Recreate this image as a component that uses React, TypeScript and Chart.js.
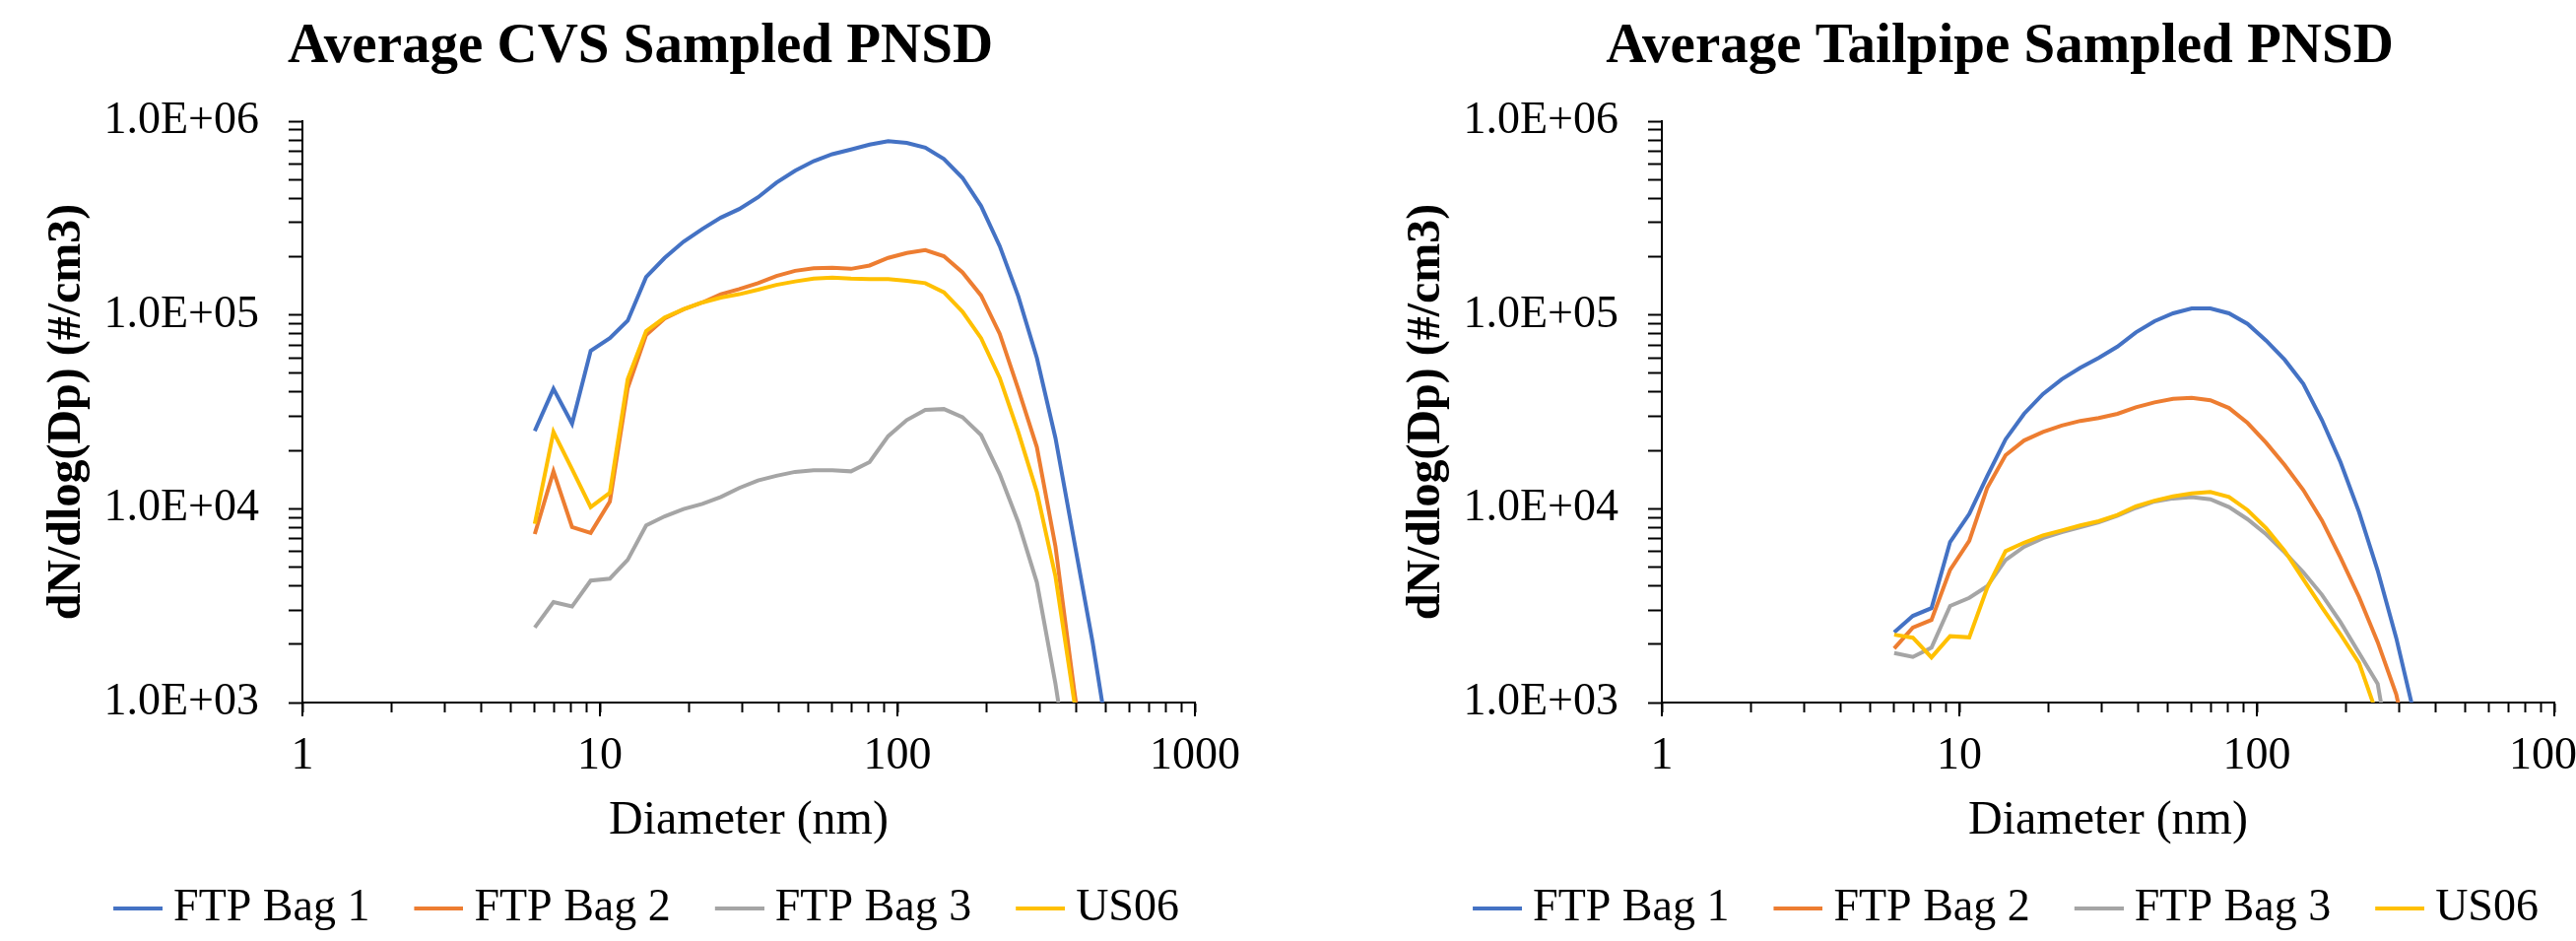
import React, { useEffect, useRef } from 'react';
import { Chart, registerables } from 'chart.js';

Chart.register(...registerables);

// ---------------- DATA ----------------
const diameters = [6.04, 6.98, 8.06, 9.31, 10.8, 12.4, 14.3, 16.5, 19.1, 22.1, 25.5, 29.4, 34.0, 39.2, 45.3, 52.3, 60.4, 69.8, 80.6, 93.1, 107.5, 124.1, 143.3, 165.5, 191.1, 220.7, 254.8, 294.3, 339.8, 392.4, 453.2, 523.3];

const seriesNames = ['FTP Bag 1', 'FTP Bag 2', 'FTP Bag 3', 'US06'];

// Average CVS sampled PNSD (#/cm3)
const cvsBag1 = [25200, 41600, 27500, 65300, 76000, 93500, 157000, 197000, 239000, 278000, 318000, 352000, 405000, 482000, 555000, 622000, 676000, 714000, 757000, 789000, 773000, 730000, 638000, 510000, 365000, 227000, 125000, 60000, 23200, 6870, 2040, 510];
const cvsBag2 = [7400, 15600, 8050, 7500, 10900, 42000, 78900, 96000, 107000, 116000, 128000, 136000, 146000, 159000, 169000, 174000, 175000, 173000, 180000, 197000, 209000, 216000, 201000, 166000, 126000, 80000, 41500, 20800, 6400, 1170, 250];
const cvsBag3 = [2440, 3300, 3130, 4260, 4360, 5450, 8200, 9140, 9960, 10600, 11500, 12800, 14000, 14800, 15500, 15800, 15800, 15600, 17400, 23700, 28700, 32400, 32700, 29700, 24000, 15100, 8530, 4170, 1250, 300];
const cvsUS06 = [8360, 24900, 16000, 10200, 12100, 46600, 82600, 97000, 107000, 116000, 123000, 128000, 135000, 143000, 149000, 154000, 156000, 154000, 153000, 153000, 150000, 146000, 131000, 104000, 75900, 47400, 24900, 12200, 4480, 1030, 200];

// Average Tailpipe sampled PNSD (#/cm3)
const tpBag1 = [2300, 2800, 3070, 6740, 9400, 14700, 22800, 30900, 39100, 46600, 53400, 60000, 68700, 81300, 92900, 102000, 108000, 108000, 102000, 90000, 73700, 58700, 44100, 28700, 17400, 9600, 4800, 2150, 840];
const tpBag2 = [1900, 2440, 2670, 4840, 6830, 12800, 18900, 22500, 24900, 26900, 28400, 29400, 30900, 33400, 35400, 36900, 37400, 36300, 33100, 27700, 21900, 16800, 12500, 8700, 5600, 3500, 2050, 1100, 400];
const tpBag3 = [1800, 1720, 1920, 3150, 3470, 3980, 5440, 6360, 7060, 7580, 8040, 8520, 9220, 10100, 10900, 11300, 11500, 11200, 10200, 8830, 7380, 5960, 4700, 3600, 2600, 1800, 1250, 350];
const tpUS06 = [2240, 2160, 1710, 2200, 2170, 3900, 6040, 6680, 7290, 7730, 8200, 8620, 9290, 10300, 11000, 11600, 12000, 12200, 11500, 9840, 7930, 6050, 4330, 3100, 2250, 1600, 850, 200];

const xMajor = [1, 10, 100, 1000];
const xTickLabels = ['1', '10', '100', '1000'];
const yMajor = [1e3, 1e4, 1e5, 1e6];
const yTickLabels = ['1.0E+03', '1.0E+04', '1.0E+05', '1.0E+06'];
const minorSteps = [1, 2, 3, 4, 5, 6, 7, 8, 9];

const chartTitles = ['Average CVS Sampled PNSD', 'Average Tailpipe Sampled PNSD'];
const xTitle = 'Diameter (nm)';
const yTitle = 'dN/dlog(Dp) (#/cm3)';

// ---------------- STYLE ----------------
const colors = ['#4472C4', '#ED7D31', '#A5A5A5', '#FFC000'];
const FONT = "'Liberation Serif', serif";

const withMinors = (majors: number[]) =>
  majors.flatMap((m, i) => (i === majors.length - 1 ? [m] : minorSteps.map((s) => s * m)));

// legend key: a short line placed close to the label text
function legendLine(color: string): HTMLCanvasElement {
  const c = document.createElement('canvas');
  c.width = 74;
  c.height = 6;
  const g = c.getContext('2d')!;
  g.fillStyle = color;
  g.fillRect(24, 1, 50, 4);
  return c;
}

const majorTickPlugin = {
  id: 'majorXTicks',
  afterDraw(chart: any) {
    const xs = chart.scales.x;
    const { ctx, chartArea } = chart;
    ctx.save();
    ctx.strokeStyle = '#000';
    ctx.lineWidth = 2;
    xMajor.forEach((v) => {
      const px = Math.round(xs.getPixelForValue(v));
      ctx.beginPath();
      ctx.moveTo(px, chartArea.bottom);
      ctx.lineTo(px, chartArea.bottom + 14);
      ctx.stroke();
    });
    ctx.restore();
  },
};

function buildConfig(title: string, series: number[][]): any {
  const datasets = series.map((vals, i) => ({
    label: seriesNames[i],
    data: vals.map((v, j) => ({ x: diameters[j], y: v })),
    borderColor: colors[i],
    backgroundColor: colors[i],
    borderWidth: 4,
    pointRadius: 0,
    pointStyle: legendLine(colors[i]),
    tension: 0,
    order: series.length - i,
  }));
  return {
    type: 'line',
    data: { datasets },
    plugins: [majorTickPlugin],
    options: {
      responsive: false,
      animation: false,
      events: [],
      font: { family: FONT },
      layout: { padding: 0 },
      scales: {
        x: {
          type: 'logarithmic',
          position: 'bottom',
          min: 1,
          max: 1000,
          afterBuildTicks: (s: any) => {
            s.ticks = withMinors(xMajor).map((v) => ({ value: v }));
          },
          afterFit: (s: any) => {
            s.height = 153;
          },
          ticks: {
            autoSkip: false,
            maxRotation: 0,
            padding: 17,
            font: { family: FONT, size: 46 },
            color: '#000',
            callback: (v: any) => {
              const k = xMajor.indexOf(Number(v));
              return k >= 0 ? xTickLabels[k] : '';
            },
          },
          grid: { drawOnChartArea: false, drawTicks: true, tickLength: 10, tickColor: '#000', tickWidth: 2 },
          border: { display: true, color: '#000', width: 2 },
          title: {
            display: true,
            text: xTitle,
            font: { family: FONT, size: 48 },
            color: '#000',
            padding: { top: 0, bottom: 4 },
          },
        },
        y: {
          type: 'logarithmic',
          position: 'left',
          min: 1000,
          max: 1000000,
          afterBuildTicks: (s: any) => {
            s.ticks = withMinors(yMajor).map((v) => ({ value: v }));
          },
          afterFit: (s: any) => {
            s.width = 307;
          },
          ticks: {
            autoSkip: false,
            padding: 30,
            font: { family: FONT, size: 46 },
            color: '#000',
            callback: (v: any) => {
              const k = yMajor.indexOf(Number(v));
              return k >= 0 ? yTickLabels[k] : '';
            },
          },
          grid: { drawOnChartArea: false, drawTicks: true, tickLength: 14, tickColor: '#000', tickWidth: 2 },
          border: { display: true, color: '#000', width: 2 },
          title: {
            display: true,
            text: yTitle,
            font: { family: FONT, size: 48, weight: 'bold' },
            color: '#000',
            padding: { top: 40, bottom: 0 },
          },
        },
        yR: {
          type: 'linear',
          position: 'right',
          display: true,
          grid: { display: false },
          border: { display: false },
          ticks: { display: false },
          afterFit: (s: any) => {
            s.width = 87;
          },
        },
      },
      plugins: {
        title: {
          display: true,
          text: title,
          color: '#000',
          font: { family: FONT, size: 57, weight: 'bold' },
          padding: { top: 14, bottom: 40.6 },
        },
        legend: {
          display: true,
          position: 'bottom',
          labels: {
            color: '#000',
            font: { family: FONT, size: 46 },
            usePointStyle: true,
            pointStyleWidth: 50,
            padding: 33,
            sort: (a: any, b: any) => a.datasetIndex - b.datasetIndex,
          },
        },
        tooltip: { enabled: false },
      },
    },
  };
}

function PnsdChart({ title, series, left }: { title: string; series: number[][]; left: number }) {
  const ref = useRef<HTMLCanvasElement>(null);
  useEffect(() => {
    if (!ref.current) return;
    Chart.defaults.font.family = FONT;
    const chart = new Chart(ref.current, buildConfig(title, series));
    return () => chart.destroy();
  }, []);
  return (
    <canvas
      ref={ref}
      width={1300}
      height={955}
      style={{ position: 'absolute', left, top: 0, width: 1300, height: 955 }}
    />
  );
}

export default function App() {
  return (
    <div
      style={{
        position: 'absolute',
        left: 0,
        top: 0,
        width: 2615,
        height: 955,
        overflow: 'hidden',
        background: '#fff',
      }}
    >
      <PnsdChart title={chartTitles[0]} series={[cvsBag1, cvsBag2, cvsBag3, cvsUS06]} left={0} />
      <PnsdChart title={chartTitles[1]} series={[tpBag1, tpBag2, tpBag3, tpUS06]} left={1380} />
    </div>
  );
}
